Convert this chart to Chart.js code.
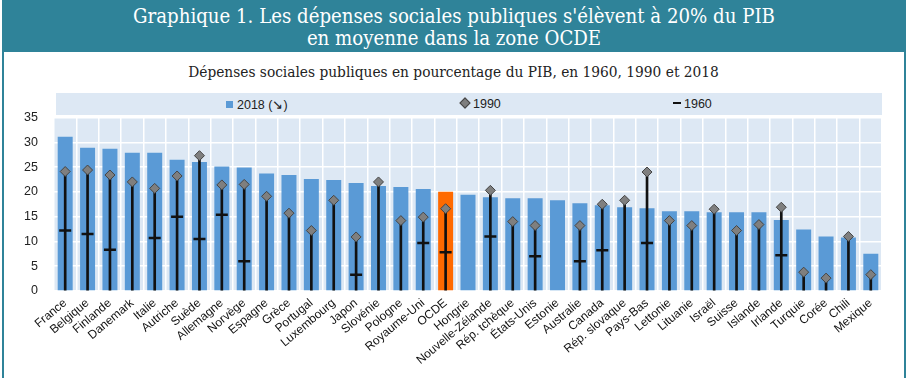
<!DOCTYPE html>
<html lang="fr">
<head>
  <meta charset="UTF-8" />
  <title>Dépenses sociales publiques</title>
  <script src="https://cdn.jsdelivr.net/npm/chart.js"></script>
  <style>
    body {
      margin: 0;
      background: #ffffff;
      width: 907px;
      height: 378px;
      overflow: hidden;
    }
    #frame {
      position: absolute;
      left: 2px;
      top: 0;
      width: 900px;
      height: 378px;
      border-left: 2px solid #2f8399;
      border-right: 2px solid #2f8399;
    }
    #banner {
      position: absolute;
      left: 2px;
      top: 0;
      width: 904px;
      height: 52px;
      background: #2f8399;
      color: #ffffff;
      font-family: "DejaVu Serif Condensed", "DejaVu Serif", serif;
      font-size: 20.2px;
      line-height: 22px;
      text-align: center;
      padding-top: 5px;
      box-sizing: border-box;
    }
    #subtitle {
      position: absolute;
      left: 0;
      top: 63px;
      width: 907px;
      text-align: center;
      font-family: "DejaVu Serif Condensed", "DejaVu Serif", serif;
      font-size: 15.3px;
      color: #222;
    }
    #legend {
      position: absolute;
      left: 56px;
      top: 93px;
      width: 826px;
      height: 22px;
      background: #dde8f4;
      font-family: "Liberation Sans", Arial, sans-serif;
      font-size: 12.5px;
      color: #222;
    }
    #legend span.item {
      position: absolute;
      top: 4px;
      white-space: nowrap;
    }
    .sq { display: inline-block; width: 7px; height: 7px; background: #5a9ad6; margin-right: 4px; vertical-align: 1px; }
    .dia { display: inline-block; width: 6px; height: 6px; background: #7f7f7f; border: 1px solid #444; transform: rotate(45deg); margin-right: 4px; vertical-align: 1px; }
    .dash { display: inline-block; width: 8px; height: 2px; background: #111; margin-right: 3px; vertical-align: 4px; }
    #chart-box {
      position: absolute;
      left: 0;
      top: 110px;
      width: 907px;
      height: 268px;
    }
  </style>
</head>
<body>
  <div id="frame"></div>
  <div id="banner">Graphique 1. Les dépenses sociales publiques s'élèvent à 20% du PIB<br>en moyenne dans la zone OCDE</div>
  <div id="subtitle">Dépenses sociales publiques en pourcentage du PIB, en 1960, 1990 et 2018</div>
  <div id="legend">
    <span class="item" style="left:170px"><span class="sq"></span>2018 (↘)</span>
    <span class="item" style="left:405px"><span class="dia"></span>1990</span>
    <span class="item" style="left:617px"><span class="dash"></span>1960</span>
  </div>
  <div id="chart-box"><canvas id="chart"></canvas></div>

  <script>
    const categories = ["France", "Belgique", "Finlande", "Danemark", "Italie", "Autriche", "Suède",
      "Allemagne", "Norvège", "Espagne", "Grèce", "Portugal", "Luxembourg", "Japon", "Slovénie",
      "Pologne", "Royaume-Uni", "OCDE", "Hongrie", "Nouvelle-Zélande", "Rép. tchèque", "États-Unis",
      "Estonie", "Australie", "Canada", "Rép. slovaque", "Pays-Bas", "Lettonie", "Lituanie", "Israël",
      "Suisse", "Islande", "Irlande", "Turquie", "Corée", "Chili", "Mexique"];

    const values2018 = [31.1, 28.9, 28.7, 27.9, 27.9, 26.5, 26.0, 25.1, 24.9, 23.7, 23.4, 22.6, 22.4,
      21.8, 21.2, 21.0, 20.6, 20.0, 19.4, 18.9, 18.7, 18.7, 18.3, 17.7, 17.3, 16.9, 16.7, 16.1, 16.1,
      15.9, 15.9, 15.9, 14.3, 12.4, 11.0, 10.8, 7.5];

    const values1990 = [24.1, 24.4, 23.4, 22.0, 20.7, 23.2, 27.3, 21.4, 21.5, 19.1, 15.7, 12.2, 18.3,
      10.9, 22.0, 14.2, 14.9, 16.6, null, 20.3, 14.0, 13.2, null, 13.2, 17.5, 18.3, 24.0, 14.2, 13.2,
      16.5, 12.2, 13.4, 16.9, 3.8, 2.6, 11.0, 3.3];

    const values1960 = [12.2, 11.5, 8.3, null, 10.7, 15.0, 10.5, 15.4, 6.0, null, null, null, null,
      3.3, null, null, 9.7, 7.8, null, 11.0, null, 7.0, null, 6.0, 8.2, null, 9.7, null, null,
      null, null, null, 7.2, null, null, null, null];

    // stems run from 0 up to the highest historical marker
    const stems = categories.map((c, i) => {
      const top = Math.max(values1990[i] ?? 0, values1960[i] ?? 0);
      return top > 0 ? [0, top] : null;
    });

    const barColors = categories.map(c => c === "OCDE" ? "#ff6a00" : "#5a9ad6");

    const plotBg = {
      id: 'plotBg',
      beforeDraw(chart) {
        const a = chart.chartArea;
        const ctx = chart.ctx;
        ctx.save();
        ctx.fillStyle = '#dde8f4';
        ctx.fillRect(a.left, a.top, a.right - a.left, a.bottom - a.top);
        ctx.restore();
      }
    };

    new Chart(document.getElementById('chart'), {
      data: {
        labels: categories,
        datasets: [
          {
            type: 'line',
            label: '1990',
            data: values1990,
            showLine: false,
            pointStyle: 'rectRot',
            pointRadius: 5,
            pointBackgroundColor: '#7f7f7f',
            pointBorderColor: '#444',
            pointBorderWidth: 1,
            order: 0
          },
          {
            type: 'line',
            label: '1960',
            data: values1960,
            showLine: false,
            pointStyle: 'line',
            pointRadius: 6,
            pointBorderColor: '#111',
            pointBorderWidth: 2.5,
            order: 1
          },
          {
            type: 'bar',
            label: 'stem',
            data: stems,
            backgroundColor: '#111',
            barThickness: 2,
            grouped: false,
            order: 2
          },
          {
            type: 'bar',
            label: '2018',
            data: values2018,
            backgroundColor: barColors,
            barPercentage: 0.67,
            categoryPercentage: 1,
            grouped: false,
            order: 3
          }
        ]
      },
      options: {
        responsive: true,
        maintainAspectRatio: false,
        animation: false,
        layout: { autoPadding: false, padding: { top: 5, right: 25, left: 0, bottom: 0 } },
        plugins: {
          legend: { display: false },
          tooltip: { enabled: false }
        },
        scales: {
          x: {
            offset: true,
            grid: { color: '#ffffff', lineWidth: 1.5, offset: true, drawTicks: false },
            border: { display: false },
            ticks: {
              color: '#111',
              font: { family: 'Liberation Sans', size: 12 },
              minRotation: 40,
              maxRotation: 40,
              autoSkip: false,
              padding: 5
            },
            afterFit(scale) { scale.height = 87; }
          },
          y: {
            min: 0,
            max: 35,
            // invisible tick marks keep the labels off the plot without padding the top
            grid: { color: '#ffffff', lineWidth: 1.5, drawTicks: true, tickLength: 16, tickColor: 'rgba(0,0,0,0)' },
            border: { display: false },
            ticks: {
              stepSize: 5,
              color: '#222',
              font: { family: 'Liberation Sans', size: 12.5 },
              padding: 0
            },
            afterFit(scale) { scale.width = 54; }
          }
        }
      },
      plugins: [plotBg]
    });
  </script>
</body>
</html>
